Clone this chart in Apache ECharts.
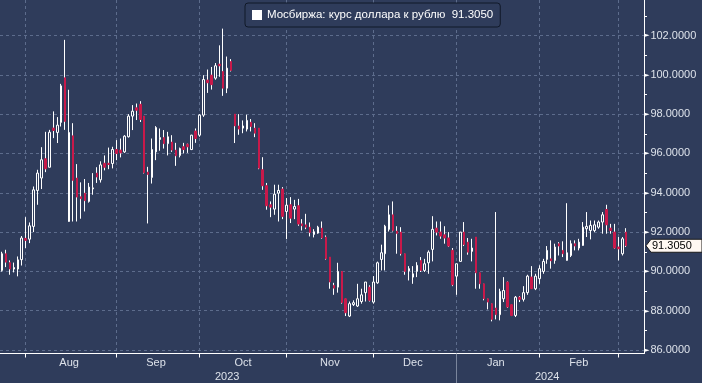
<!DOCTYPE html>
<html><head><meta charset="utf-8">
<script src="https://cdn.jsdelivr.net/npm/echarts/dist/echarts.min.js"></script>
<style>html,body{margin:0;padding:0;background:#2f3c5b}#c{width:702px;height:383px}</style>
</head><body><div id="c"></div>
<script>
// ---- data ----
const dates = [
'2023-07-24','2023-07-25','2023-07-26','2023-07-27','2023-07-28','2023-07-31',
'2023-08-01','2023-08-02','2023-08-03','2023-08-04','2023-08-07','2023-08-08','2023-08-09','2023-08-10','2023-08-11','2023-08-14','2023-08-15','2023-08-16','2023-08-17','2023-08-18','2023-08-21','2023-08-22','2023-08-23','2023-08-24','2023-08-25','2023-08-28','2023-08-29','2023-08-30','2023-08-31',
'2023-09-01','2023-09-04','2023-09-05','2023-09-06','2023-09-07','2023-09-08','2023-09-11','2023-09-12','2023-09-13','2023-09-14','2023-09-15','2023-09-18','2023-09-19','2023-09-20','2023-09-21','2023-09-22','2023-09-25','2023-09-26','2023-09-27','2023-09-28','2023-09-29',
'2023-10-02','2023-10-03','2023-10-04','2023-10-05','2023-10-06','2023-10-09','2023-10-10','2023-10-11','2023-10-12','2023-10-13','2023-10-16','2023-10-17','2023-10-18','2023-10-19','2023-10-20','2023-10-23','2023-10-24','2023-10-25','2023-10-26','2023-10-27','2023-10-30','2023-10-31',
'2023-11-01','2023-11-02','2023-11-03','2023-11-06','2023-11-07','2023-11-08','2023-11-09','2023-11-10','2023-11-13','2023-11-14','2023-11-15','2023-11-16','2023-11-17','2023-11-20','2023-11-21','2023-11-22','2023-11-23','2023-11-24','2023-11-27','2023-11-28','2023-11-29','2023-11-30',
'2023-12-01','2023-12-04','2023-12-05','2023-12-06','2023-12-07','2023-12-08','2023-12-11','2023-12-12','2023-12-13','2023-12-14','2023-12-15','2023-12-18','2023-12-19','2023-12-20','2023-12-21','2023-12-22','2023-12-25','2023-12-26','2023-12-27','2023-12-28','2023-12-29',
'2024-01-03','2024-01-04','2024-01-05','2024-01-08','2024-01-09','2024-01-10','2024-01-11','2024-01-12','2024-01-15','2024-01-16','2024-01-17','2024-01-18','2024-01-19','2024-01-22','2024-01-23','2024-01-24','2024-01-25','2024-01-26','2024-01-29','2024-01-30','2024-01-31',
'2024-02-01','2024-02-02','2024-02-05','2024-02-06','2024-02-07','2024-02-08','2024-02-09','2024-02-12','2024-02-13','2024-02-14','2024-02-15','2024-02-16','2024-02-19','2024-02-20','2024-02-21','2024-02-22','2024-02-26','2024-02-27','2024-02-28','2024-02-29',
'2024-03-01','2024-03-04','2024-03-05'
];
const padDates = ['2024-03-06','2024-03-07','2024-03-11','2024-03-12'];

const open = [
90.05,90.90,90.45,90.12,90.12,90.60,91.68,91.64,92.29,94.12,94.75,95.73,95.30,97.29,97.07,97.58,99.85,92.54,96.90,94.75,
93.80,93.98,93.56,94.20,95.00,94.66,95.50,95.50,95.49,96.20,96.17,96.08,96.85,97.90,98.32,98.50,97.90,95.05,94.78,96.08,
96.71,96.81,96.50,96.58,96.17,95.90,96.34,96.47,96.20,97.14,96.93,97.95,99.73,99.98,99.83,100.54,100.17,99.32,100.68,98.00,
97.40,97.29,97.24,97.59,97.29,97.29,95.17,94.36,93.39,93.17,93.98,94.19,93.05,93.39,93.17,93.34,92.42,92.37,92.25,91.88,
91.95,92.20,91.75,90.73,89.29,89.20,90.00,88.61,87.73,88.31,88.24,88.47,88.92,89.20,88.44,89.42,90.61,90.90,92.14,92.88,
92.05,92.00,90.90,90.03,89.71,90.00,90.56,90.05,90.44,91.12,92.20,92.00,91.86,91.70,91.07,89.76,90.51,92.00,91.49,91.02,
91.75,89.93,89.37,88.61,88.36,88.14,87.80,88.61,89.46,88.31,87.76,88.69,88.58,88.92,89.71,89.12,89.63,90.00,90.61,90.64,
90.56,91.41,91.07,90.56,90.81,91.41,91.19,91.32,92.17,92.08,92.08,92.25,92.51,93.15,92.20,92.00,91.24,90.90,92.00
];
const high = [
91.00,91.10,90.56,90.45,90.76,91.80,92.76,92.49,94.32,95.17,96.32,97.10,97.20,98.14,97.85,99.54,101.78,99.24,97.54,95.46,
94.53,94.70,94.50,95.00,95.30,95.60,95.90,96.30,96.34,96.68,96.76,96.93,98.00,98.46,98.54,98.66,97.90,95.32,96.76,97.39,
97.27,97.19,97.10,96.93,96.54,96.30,96.54,96.50,96.95,97.27,98.00,99.98,100.27,100.40,100.60,101.50,102.35,100.93,100.80,98.00,
98.00,97.68,97.97,97.75,97.54,97.29,95.81,94.50,93.56,94.41,94.41,94.29,93.73,93.78,93.64,93.69,92.66,92.93,92.49,92.15,
92.32,92.54,91.83,90.73,89.42,90.44,90.00,88.61,88.47,88.53,89.37,89.12,89.46,89.29,89.76,90.50,91.36,92.37,93.36,93.56,
92.30,92.25,90.90,90.27,90.27,90.47,90.73,90.64,91.07,92.81,92.54,92.54,92.30,92.00,91.19,90.39,92.00,92.51,91.70,91.66,
91.75,89.93,89.37,88.61,88.36,93.02,89.12,89.71,89.49,88.31,88.75,88.75,89.25,89.83,90.27,89.88,90.31,90.64,91.29,91.58,
91.41,91.49,91.53,93.47,91.58,91.58,91.66,92.51,93.02,92.59,92.59,92.59,93.02,93.39,92.42,92.42,91.75,91.75,92.20
];
const low = [
89.99,90.22,89.83,89.95,89.75,90.30,91.19,91.44,92.00,93.39,94.19,95.05,95.30,96.78,96.53,97.37,97.20,92.54,92.54,92.54,
92.68,93.05,93.50,93.90,94.50,94.52,95.14,95.20,95.24,95.66,95.80,96.03,96.81,97.19,97.70,97.60,94.98,92.44,94.47,95.66,
96.14,96.25,95.90,96.08,95.37,95.80,96.00,96.03,96.17,96.54,96.85,97.86,99.08,99.25,99.75,99.90,98.93,99.07,100.17,96.53,
96.95,97.03,97.12,97.12,96.83,95.20,94.15,93.14,92.76,92.88,92.54,92.66,91.64,92.46,92.66,92.32,92.08,92.15,91.78,91.73,
91.92,91.66,90.60,89.12,88.81,88.92,88.36,87.73,87.68,88.24,88.19,88.36,88.47,88.47,88.36,89.37,90.05,90.05,92.03,92.03,
90.90,90.81,89.83,89.54,89.37,89.71,89.97,89.97,89.88,90.51,91.83,91.66,91.41,91.24,89.25,88.81,90.51,91.29,90.85,90.51,
89.12,89.12,88.53,88.07,87.46,87.56,87.51,88.44,88.14,87.73,87.68,88.44,88.47,88.81,89.12,89.05,89.37,89.88,90.39,90.14,
90.39,90.81,90.73,90.56,90.73,91.07,91.07,91.32,91.75,91.63,92.00,92.17,91.92,91.92,91.92,91.15,90.56,90.81,91.24
];
const close = [
90.90,90.47,90.12,90.20,90.59,91.70,91.58,92.32,94.15,95.00,95.68,95.22,97.08,97.17,97.44,99.44,97.63,97.07,94.63,93.78,
93.70,93.60,94.29,94.25,94.80,95.42,95.30,95.44,96.20,96.00,96.03,96.88,97.90,98.15,98.20,97.73,95.02,94.93,96.20,97.32,
96.81,96.50,96.85,96.17,95.88,96.25,96.20,96.34,96.93,96.76,97.95,99.76,99.60,99.50,100.46,100.46,99.32,100.34,100.22,97.40,
97.24,97.40,97.68,97.37,97.03,95.25,94.36,93.34,93.27,93.93,94.12,92.80,93.37,92.71,93.30,92.41,92.32,92.25,91.98,92.02,
92.25,91.70,90.64,89.46,89.15,90.00,88.41,87.90,88.36,88.41,88.61,88.81,89.46,88.53,89.46,90.44,90.95,92.30,92.88,92.08,
91.93,90.90,90.00,90.14,89.88,90.31,90.05,90.39,90.98,92.14,92.00,91.80,91.70,91.29,89.32,90.39,92.00,91.36,90.98,91.19,
89.93,89.37,88.61,88.44,87.56,87.80,88.98,89.03,88.19,87.76,88.69,88.58,88.92,89.76,89.12,89.76,90.14,90.51,91.07,90.54,
91.24,91.29,90.90,90.95,91.41,91.29,91.49,92.25,92.29,92.34,92.37,92.51,92.88,92.37,92.08,91.19,91.15,91.66,91.305
];
const monthLabels = ['Aug','Sep','Oct','Nov','Dec','Jan','Feb'];
const yearLabels = ['2023','2024'];
const seriesTitle = 'Мосбиржа: курс доллара к рублю';

// ---- derived ----
const cats = dates.concat(padDates);
const starts = [];
for (let i = 1; i < dates.length; i++) if (dates[i].slice(0,7) !== dates[i-1].slice(0,7)) starts.push(i);
const monthMid = {};
for (let k = 0; k < starts.length - 1 && k < monthLabels.length; k++) {
  monthMid[Math.round((starts[k] + starts[k+1] - 1) / 2)] = monthLabels[k];
}
const yearStart = [];
for (let i = 1; i < cats.length; i++) if (cats[i].slice(0,4) !== cats[i-1].slice(0,4)) yearStart.push(i);
const yBounds = [0].concat(yearStart, [cats.length]);
const yearMid = {};
for (let k = 0; k < yBounds.length - 1; k++) yearMid[Math.floor((yBounds[k] + yBounds[k+1] - 1) / 2)] = yearLabels[k];

const last = close[close.length - 1];
const legendName = seriesTitle + '  ' + last.toFixed(4);
const wickData = open.map((o, i) => [o, close[i], low[i], high[i]]);
const bodyData = open.map((o, i) => [o, close[i], Math.min(o, close[i]), Math.max(o, close[i])]);

const BG = '#2f3c5b', RED = '#c8194a', GRID = '#5d6c8c', TXT = '#dde2ea';
const FONT = 'Liberation Sans';

const chart = echarts.init(document.getElementById('c'), null, {renderer: 'canvas'});
chart.setOption({
  animation: false,
  backgroundColor: BG,
  textStyle: {fontFamily: FONT},
  legend: {
    left: 245, top: 3, padding: [6, 7, 6, 7],
    backgroundColor: BG, borderColor: '#101828', borderWidth: 1, borderRadius: 3,
    itemWidth: 10, itemHeight: 10, itemGap: 6,
    textStyle: {color: '#ffffff', fontSize: 11.5, fontFamily: FONT},
    data: [{name: legendName, icon: 'rect', itemStyle: {color: '#ffffff', borderWidth: 0}}]
  },
  grid: {left: -0.7, right: 58, top: 0, bottom: 29.5},
  xAxis: [{
    type: 'category', data: cats, boundaryGap: true,
    axisLine: {show: true, lineStyle: {color: '#ffffff', width: 1}},
    axisTick: {show: true, alignWithLabel: true, length: 4, interval: (i) => starts.includes(i), lineStyle: {color: '#ffffff'}},
    axisLabel: {show: true, interval: (i) => monthMid[i] !== undefined, formatter: (v, i) => monthMid[i] || '', color: TXT, fontSize: 11, margin: 4, fontFamily: FONT},
    splitLine: {show: true, alignWithLabel: true, interval: (i) => starts.includes(i), lineStyle: {color: GRID, type: [3, 3], width: 1}}
  }, {
    type: 'category', data: cats, boundaryGap: true, position: 'bottom', gridIndex: 0,
    axisLine: {show: false},
    axisTick: {show: true, alignWithLabel: true, length: 30, interval: (i) => yearStart.includes(i), lineStyle: {color: '#7a859c'}},
    axisLabel: {show: true, interval: (i) => yearMid[i] !== undefined, formatter: (v, i) => yearMid[i] || '', color: TXT, fontSize: 11, margin: 18, fontFamily: FONT},
    splitLine: {show: false}
  }],
  yAxis: {
    type: 'value', position: 'right', min: 85.825, max: 103.806, splitNumber: 9, scale: true,
    axisLine: {show: true, lineStyle: {color: '#ffffff', width: 1}},
    axisTick: {show: false},
    minorTick: {show: true, splitNumber: 2, length: 3, lineStyle: {color: '#ffffff'}},
    axisLabel: {
      margin: 0, showMinLabel: false, showMaxLabel: false,
      formatter: (v) => '{t|►}{v|' + v.toFixed(4) + '}',
      rich: {t: {fontSize: 7, color: '#ffffff', fontFamily: 'DejaVu Sans', padding: [0, 1, 0, 0]}, v: {fontSize: 11, color: TXT, fontFamily: FONT}}
    },
    splitLine: {show: true, showMinLine: false, showMaxLine: false, lineStyle: {color: GRID, type: [3, 3], width: 1}}
  },
  series: [{
    name: 'wick', type: 'candlestick', data: wickData, barWidth: 1, silent: true,
    itemStyle: {color: '#ffffff', color0: '#ffffff', borderColor: '#ffffff', borderColor0: '#ffffff', borderWidth: 1}
  }, {
    name: legendName, type: 'candlestick', data: bodyData, barWidth: 2,
    itemStyle: {color: BG, color0: RED, borderColor: '#ffffff', borderColor0: RED, borderWidth: 1}
  }]
});

// price tag on right axis
const py = chart.convertToPixel({yAxisIndex: 0}, last);
const rect = chart.getModel().getComponent('grid').coordinateSystem.getRect();
const x0 = rect.x + rect.width + 2;
chart.setOption({
  graphic: [{
    type: 'polygon', z: 100,
    shape: {points: [[x0, py], [x0 + 5, py - 6.5], [702, py - 6.5], [702, py + 6.5], [x0 + 5, py + 6.5]]},
    style: {fill: '#fff8f2', stroke: '#1a1a1a', lineWidth: 1}
  }, {
    type: 'text', z: 101, x: x0 + 6, y: py,
    style: {text: last.toFixed(4), fill: '#000000', font: '11px ' + FONT, textVerticalAlign: 'middle', verticalAlign: 'middle'}
  }]
});
</script>
</body></html>
